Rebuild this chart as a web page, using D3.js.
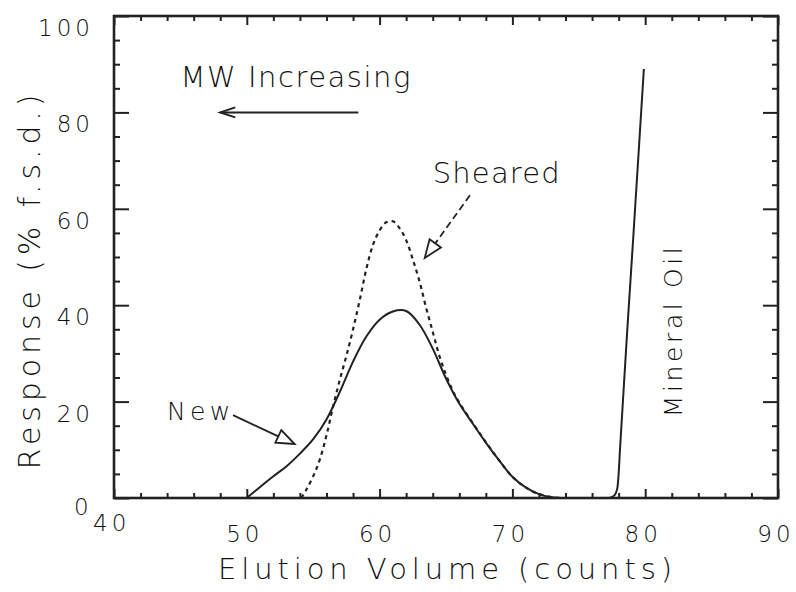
<!DOCTYPE html>
<html>
<head>
<meta charset="utf-8">
<script src="https://cdn.jsdelivr.net/npm/d3@7"></script>
<style>
  body { margin: 0; background: #fff; }
  text { font-family: "DejaVu Sans", sans-serif; font-weight: 200; fill: #111; }
  .tick-label { font-size: 23px; letter-spacing: 4px; }
</style>
</head>
<body>
<div id="chart"></div>
<script>
// tick values
const xTicks = [40, 50, 60, 70, 80, 90];
const yTicks = [0, 20, 40, 60, 80, 100];

// "New" polymer trace (solid)
const newVol  = [50, 51, 52, 53, 54, 55, 56, 57, 58, 59, 60, 61, 62, 63, 64, 65, 66, 67, 68, 69, 70, 71, 72, 73, 73.6];
const newResp = [0, 2.3, 4.5, 6.6, 9.2, 12.2, 16.3, 22, 28.3, 33.5, 37, 38.7, 38.8, 36, 31, 24.8, 19.6, 15.5, 11.5, 7.8, 4.4, 2.2, 0.8, 0.15, 0];

// "Sheared" trace (dotted)
const shVol  = [54.1, 54.5, 55, 55.5, 56, 56.5, 57, 57.5, 58, 58.5, 59, 59.5, 60, 60.5, 61, 61.5, 62, 62.5, 63, 63.5, 64, 64.5, 65, 65.5, 66, 67, 68, 69, 70, 71, 72, 73, 73.6];
const shResp = [0, 1.8, 4.5, 8, 13, 19, 24.5, 29.5, 35, 41, 47.5, 52.5, 55.5, 57.2, 57.4, 56, 53.5, 49.5, 45, 39.5, 34.5, 29.5, 25.6, 22.3, 19.8, 15.6, 11.6, 7.8, 4.4, 2.2, 0.8, 0.15, 0];

// mineral oil front (solid)
const oilVol  = [77.3, 77.7, 77.9, 78.0, 78.1, 78.7, 79.1, 79.9];
const oilResp = [0, 0.6, 2, 5, 10, 37, 54, 89];

const config = {
    width: 796, height: 592,
    margin: {top: 16, right: 18, bottom: 94, left: 114}
};

const svg = d3.select('#chart').append('svg')
    .attr('width', config.width)
    .attr('height', config.height);

const w = config.width - config.margin.left - config.margin.right;
const h = config.height - config.margin.top - config.margin.bottom;

const chart = svg.append('g')
    .attr('transform', `translate(${config.margin.left},${config.margin.top})`);

const x = d3.scaleLinear().domain([40, 90]).range([0, w]);
const y = d3.scaleLinear().domain([0, 100]).range([h, 0]);

const minorX = d3.range(40, 91, 2).filter(v => v % 10 !== 0);
const minorY = d3.range(0, 101, 5).filter(v => v % 20 !== 0);

// inward ticks on all four sides, major and minor
const sides = [
    [() => d3.axisBottom(x), `translate(0,${h})`, xTicks, 9, minorX, 5],
    [() => d3.axisTop(x), null, xTicks, 9, minorX, 5],
    [() => d3.axisLeft(y), null, yTicks, 15, minorY, 6],
    [() => d3.axisRight(y), `translate(${w},0)`, yTicks, 15, minorY, 6]
];
sides.forEach(([mk, tr, major, majLen, minor, minLen]) => {
    [[major, majLen], [minor, minLen]].forEach(([vals, len]) => {
        const g = chart.append('g');
        if (tr) g.attr('transform', tr);
        g.call(mk().tickValues(vals).tickSize(-len).tickFormat(''))
            .call(g => g.select('.domain').remove());
    });
});
chart.selectAll('.tick line').attr('stroke', '#222').attr('stroke-width', 2);

// frame
chart.append('rect')
    .attr('width', w).attr('height', h)
    .attr('fill', 'none').attr('stroke', '#222').attr('stroke-width', 2.6);

// tick labels
chart.selectAll('.xlab').data(xTicks.slice(1)).join('text')
    .attr('class', 'tick-label')
    .attr('x', d => x(d) - 2)
    .attr('y', h + 44)
    .attr('text-anchor', 'middle')
    .text(d => d);
chart.append('text').attr('class', 'tick-label')
    .attr('x', x(40) - 21).attr('y', h + 33).text('40');

chart.selectAll('.ylab').data(yTicks.slice(1)).join('text')
    .attr('class', 'tick-label')
    .attr('x', -20)
    .attr('y', d => y(d) + 20)
    .attr('text-anchor', 'end')
    .text(d => d);
chart.append('text').attr('class', 'tick-label')
    .attr('x', -40).attr('y', y(0) + 17).text('0');

// traces
const line = (xs, ys, curve) => d3.line()
    .x(i => x(xs[i])).y(i => y(ys[i]))
    .curve(curve)(d3.range(xs.length));

chart.append('path').attr('d', line(shVol, shResp, d3.curveCatmullRom.alpha(0.5)))
    .attr('fill', 'none').attr('stroke', '#222').attr('stroke-width', 2.2)
    .attr('stroke-dasharray', '4,4');
chart.append('path').attr('d', line(newVol, newResp, d3.curveCatmullRom.alpha(0.5)))
    .attr('fill', 'none').attr('stroke', '#222').attr('stroke-width', 2);
chart.append('path').attr('d', line(oilVol, oilResp, d3.curveMonotoneX))
    .attr('fill', 'none').attr('stroke', '#222').attr('stroke-width', 2);

// annotations
chart.append('text').attr('x', x(45)).attr('y', y(85.2))
    .attr('textLength', 230).style('font-size', '29px').text('MW Increasing');
chart.append('text').attr('x', x(64)).attr('y', y(65.3))
    .attr('textLength', 127).style('font-size', '29px').text('Sheared');
chart.append('text').attr('x', x(44)).attr('y', y(16.2))
    .attr('textLength', 63).style('font-size', '25px').text('New');
chart.append('text')
    .attr('transform', `translate(${x(82.75)},${y(34.4)}) rotate(-90)`)
    .attr('text-anchor', 'middle')
    .attr('textLength', 170).style('font-size', '25px').text('Mineral Oil');

// MW arrow: open chevron head
{
    const x0 = x(58.4), x1 = x(48), yy = y(80);
    chart.append('line').attr('x1', x0).attr('x2', x1).attr('y1', yy).attr('y2', yy)
        .attr('stroke', '#222').attr('stroke-width', 2);
    chart.append('path')
        .attr('d', `M${x1 + 15},${yy - 5}L${x1},${yy}L${x1 + 15},${yy + 5}`)
        .attr('fill', 'none').attr('stroke', '#222').attr('stroke-width', 2);
}

// leader arrows with open triangle heads
function leader(tail, tip, dashed) {
    const tx = x(tail[0]), ty = y(tail[1]);
    const px = x(tip[0]), py = y(tip[1]);
    const ang = Math.atan2(py - ty, px - tx);
    const len = 18, half = 7;
    const bx = px - len * Math.cos(ang), by = py - len * Math.sin(ang);
    const nx = -Math.sin(ang) * half, ny = Math.cos(ang) * half;
    chart.append('line').attr('x1', tx).attr('y1', ty).attr('x2', bx).attr('y2', by)
        .attr('stroke', '#222').attr('stroke-width', 1.8)
        .attr('stroke-dasharray', dashed ? '7,4' : null);
    chart.append('path')
        .attr('d', `M${px},${py}L${bx + nx},${by + ny}L${bx - nx},${by - ny}Z`)
        .attr('fill', '#fff').attr('stroke', '#222').attr('stroke-width', 1.8);
}
leader([66.8, 62.8], [63.4, 49.8], true);
leader([48.96, 17.2], [53.6, 11.2], false);

// axis titles
svg.append('text')
    .attr('x', 218).attr('y', 579)
    .attr('textLength', 454).style('font-size', '29px')
    .text('Elution Volume (counts)');
svg.append('text')
    .attr('transform', 'translate(40,282) rotate(-90)')
    .attr('text-anchor', 'middle')
    .attr('textLength', 375).style('font-size', '30px')
    .text('Response (% f.s.d.)');
</script>
</body>
</html>
